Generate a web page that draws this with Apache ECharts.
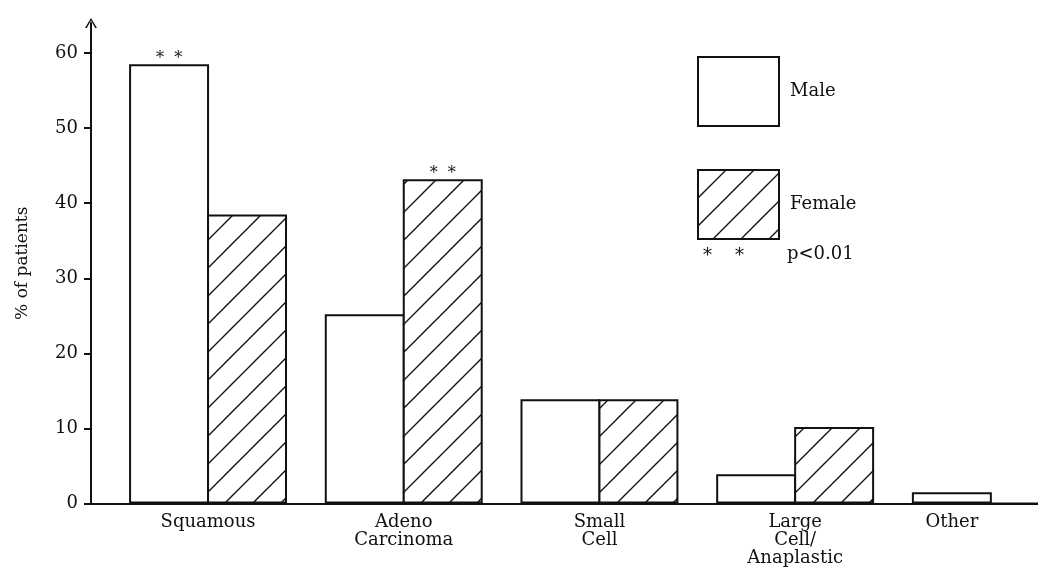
<!DOCTYPE html>
<html>
<head>
<meta charset="utf-8">
<script src="https://cdn.jsdelivr.net/npm/echarts@6/dist/echarts.min.js"></script>
<style>
  html, body { margin: 0; padding: 0; background: #fff; }
  #chart { width: 1038px; height: 572px; }
</style>
</head>
<body>
<div id="chart"></div>
<script>
// Histological type of lung cancer by sex (% of patients)
const categories = ['Squamous', 'Adeno\nCarcinoma', 'Small\nCell', 'Large\nCell/\nAnaplastic', 'Other'];
const maleValues = [58.5, 25.2, 13.9, 3.9, 1.5];
const femaleValues = [38.5, 43.2, 13.9, 10.2, 0];
// ** marks a sex difference with p < 0.01
const maleSignificant = [true, false, false, false, false];
const femaleSignificant = [false, true, false, false, false];
// categories reported for one sex only: label sits under the single bar
const singleBarCategories = ['Other'];
const yTicks = [0, 10, 20, 30, 40, 50, 60];

const INK = '#111';
const FONT = 'DejaVu Serif';

// diagonal "/" hatching used for the female bars
function hatchPattern(step, width) {
  const c = document.createElement('canvas');
  c.width = step; c.height = step;
  const g = c.getContext('2d');
  g.fillStyle = '#fff';
  g.fillRect(0, 0, step, step);
  g.strokeStyle = INK;
  g.lineWidth = width;
  g.beginPath();
  g.moveTo(0, step); g.lineTo(step, 0);
  g.moveTo(-2, 2); g.lineTo(2, -2);
  g.moveTo(step - 2, step + 2); g.lineTo(step + 2, step - 2);
  g.stroke();
  return { image: c, repeat: 'repeat' };
}

const sigLabel = {
  show: true,
  position: 'top',
  distance: -3,
  formatter: '*  *',
  fontFamily: FONT,
  fontSize: 16,
  color: INK
};

function buildData(values, significant, withCategoryLabel) {
  return values.map(function (v, i) {
    const item = { value: v };
    if (significant[i]) item.label = sigLabel;
    if (withCategoryLabel && singleBarCategories.indexOf(categories[i]) >= 0) {
      item.label = {
        show: true,
        position: 'bottom',
        distance: 10,
        formatter: categories[i],
        fontFamily: FONT,
        fontSize: 18,
        lineHeight: 18,
        color: INK
      };
    }
    return item;
  });
}

const chart = echarts.init(document.getElementById('chart'), null, { renderer: 'canvas' });

const Y_MAX = 64;
const TOP = 23;
const BOTTOM = 68.5;

chart.setOption({
  animation: false,
  backgroundColor: '#fff',
  grid: [
    // frame with the value axis and the baseline
    { left: 91, right: 0, top: TOP, bottom: BOTTOM, outerBoundsMode: 'none' },
    // bar groups; the last group runs past the right edge
    { left: 110.2, width: 978.5, top: TOP, bottom: BOTTOM, outerBoundsMode: 'none' }
  ],
  legend: {
    orient: 'vertical',
    left: 692,
    top: 51,
    itemWidth: 81,
    itemHeight: 69,
    itemGap: 42,
    icon: 'rect',
    data: ['Male', 'Female'],
    textStyle: {
      fontFamily: FONT,
      fontSize: 18,
      color: INK,
      padding: [18, 0, 0, 6]
    }
  },
  xAxis: [
    {
      gridIndex: 0,
      type: 'value',
      min: 0,
      max: 1,
      axisLine: { show: true, lineStyle: { color: INK, width: 2 } },
      axisTick: { show: false },
      axisLabel: { show: false },
      splitLine: { show: false }
    },
    {
      gridIndex: 1,
      type: 'category',
      data: categories,
      axisLine: { show: false },
      axisTick: { show: false },
      axisLabel: {
        margin: 10,
        fontFamily: FONT,
        fontSize: 18,
        lineHeight: 18,
        color: INK,
        formatter: function (v) {
          return singleBarCategories.indexOf(v) >= 0 ? '' : v;
        }
      }
    }
  ],
  yAxis: [
    {
      gridIndex: 0,
      type: 'value',
      min: 0,
      max: Y_MAX,
      interval: 10,
      name: '% of patients',
      nameLocation: 'middle',
      nameGap: 60,
      nameTextStyle: { fontFamily: FONT, fontSize: 17, color: INK },
      axisLine: {
        show: true,
        lineStyle: { color: INK, width: 2 },
        symbol: ['none', 'path://M0,10 L6,0 L12,10 L10.2,10 L6,2.6 L1.8,10 Z'],
        symbolSize: [12, 10]
      },
      axisTick: {
        show: true,
        length: 7,
        lineStyle: { color: INK, width: 2 },
        customValues: yTicks
      },
      axisLabel: {
        margin: 13,
        fontFamily: FONT,
        fontSize: 18,
        color: INK,
        customValues: yTicks
      },
      splitLine: { show: false }
    },
    {
      gridIndex: 1,
      type: 'value',
      min: 0,
      max: Y_MAX,
      show: false
    }
  ],
  series: [
    {
      name: 'Male',
      type: 'bar',
      xAxisIndex: 1,
      yAxisIndex: 1,
      barGap: '-2.5%',
      barCategoryGap: '19.3%',
      itemStyle: { color: '#fff', borderColor: INK, borderWidth: 2 },
      data: buildData(maleValues, maleSignificant, true)
    },
    {
      name: 'Female',
      type: 'bar',
      xAxisIndex: 1,
      yAxisIndex: 1,
      barGap: '-2.5%',
      barCategoryGap: '19.3%',
      itemStyle: { color: hatchPattern(28, 1.4), borderColor: INK, borderWidth: 2 },
      data: buildData(femaleValues, femaleSignificant, false)
    }
  ],
  graphic: [
    {
      type: 'text',
      left: 703,
      top: 247,
      style: { text: '*    *', font: '18px "DejaVu Serif"', fill: INK }
    },
    {
      type: 'text',
      left: 787,
      top: 245,
      style: { text: 'p<0.01', font: '18px "DejaVu Serif"', fill: INK }
    }
  ]
});
</script>
</body>
</html>
